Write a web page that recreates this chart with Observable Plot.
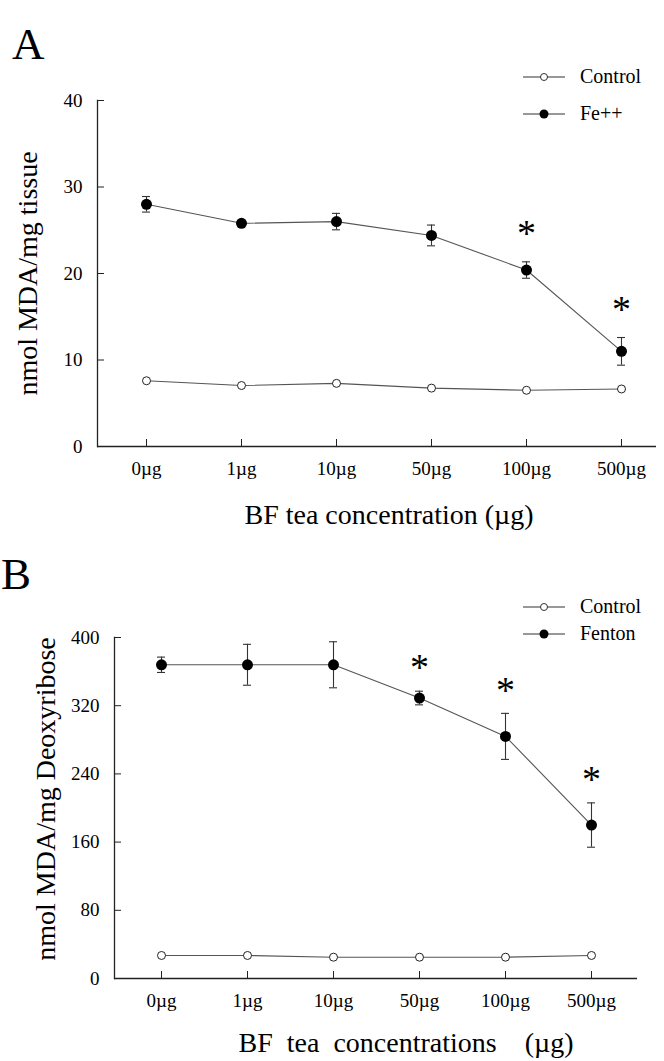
<!DOCTYPE html>
<html><head><meta charset="utf-8">
<script src="https://cdn.jsdelivr.net/npm/d3@7"></script>
<script src="https://cdn.jsdelivr.net/npm/@observablehq/plot@0.6"></script>
<style>
body{margin:0;background:#fff;}
#wrap{position:relative;width:664px;height:1061px;font-family:"Liberation Serif","Times New Roman",serif;color:#000;overflow:hidden;background:#fff}
.letter{position:absolute;font-size:45px;line-height:1;}
.legend{position:absolute;font-size:20px;}
.legend .row{position:absolute;left:0;display:flex;align-items:center;white-space:nowrap;}
.legend svg{margin-right:15px;}
svg.plotA text, svg.plotB text{font-family:"Liberation Serif","Times New Roman",serif;}
svg.plotA [aria-label="x-axis label"] text{font-size:28px;}
svg.plotA [aria-label="y-axis label"] text{font-size:28px;}
svg.plotB [aria-label="x-axis label"] text{font-size:28px;white-space:pre;word-spacing:7px;}
svg.plotB [aria-label="y-axis label"] text{font-size:28px;}
</style></head><body><div id="wrap"></div>
<script>
const concentrations = ["0µg","1µg","10µg","50µg","100µg","500µg"];
// Panel A: lipid peroxidation (nmol MDA/mg tissue)
const controlA = [7.6, 7.05, 7.3, 6.75, 6.5, 6.65];
const feA = [28.0, 25.8, 26.0, 24.4, 20.4, 11.0];
const feErrA = [0.9, 0.3, 0.95, 1.2, 0.95, 1.6];
const sigA = [false, false, false, false, true, true];
const yTicksA = [0, 10, 20, 30, 40];
// Panel B: deoxyribose degradation (nmol MDA/mg Deoxyribose)
const controlB = [27, 27, 25, 25, 25, 27];
const fentonB = [368, 368, 368, 329, 284, 180];
const fentonErrB = [9, 24, 27, 8, 27, 26];
const sigB = [false, false, false, true, true, true];
const yTicksB = [0, 80, 160, 240, 320, 400];

const serif = '"Liberation Serif","Times New Roman",serif';

function panel(o) {
  const rows = concentrations.map((c, i) => ({
    c, control: o.control[i], treat: o.treat[i],
    lo: o.treat[i] - o.err[i], hi: o.treat[i] + o.err[i], sig: o.sig[i]
  }));
  const svg = Plot.plot({
    width: 664, height: o.height,
    marginTop: o.marginTop, marginBottom: o.marginBottom,
    marginLeft: o.marginLeft, marginRight: o.marginRight,
    style: {fontFamily: serif, fontSize: "19px", color: "#000", background: "transparent", overflow: "visible"},
    x: {type: "point", domain: concentrations, range: o.xRange, padding: 0},
    y: {domain: [0, o.yTicks[o.yTicks.length - 1]]},
    marks: [
      Plot.axisX({tickSize: -7, tickPadding: 22, label: o.xlabel, labelAnchor: "center", labelOffset: o.xLabelOffset, labelArrow: "none", stroke: "#222"}),
      Plot.axisY({ticks: o.yTicks, tickSize: -7, tickPadding: 22, label: o.ylabel, labelAnchor: "center", labelOffset: o.yLabelOffset, labelArrow: "none", stroke: "#222"}),
      Plot.ruleY([0], {stroke: "#222", strokeWidth: 1.3}),
      Plot.frame({anchor: "left", stroke: "#222", strokeWidth: 1.3}),
      Plot.line(rows, {x: "c", y: "control", stroke: "#555", strokeWidth: 1.1}),
      Plot.line(rows, {x: "c", y: "treat", stroke: "#555", strokeWidth: 1.1}),
      Plot.ruleX(rows, {x: "c", y1: "lo", y2: "hi", stroke: "#333", strokeWidth: 1.1}),
      Plot.ruleY(rows, {y: "lo", x1: "c", x2: "c", insetLeft: -4, insetRight: -4, stroke: "#333", strokeWidth: 1.1}),
      Plot.ruleY(rows, {y: "hi", x1: "c", x2: "c", insetLeft: -4, insetRight: -4, stroke: "#333", strokeWidth: 1.1}),
      Plot.dot(rows, {x: "c", y: "control", r: 4, fill: "white", stroke: "#222", strokeWidth: 1}),
      Plot.dot(rows, {x: "c", y: "treat", r: 5.5, fill: "black"}),
      Plot.text(rows.filter(d => d.sig), {x: "c", y: "hi", text: () => "*", dy: o.starDy, fontSize: 38, fill: "#000"})
    ]
  });
  // small nudges of the axis titles (style offsets)
  const shift = (sel, dx, dy) => {
    const g = svg.querySelector(sel);
    if (!g) return;
    const t = g.getAttribute("transform") || "";
    g.setAttribute("transform", `translate(${dx},${dy}) ${t}`);
  };
  shift('[aria-label="x-axis label"]', o.xLabelDx, 0);
  shift('[aria-label="y-axis label"]', 0, o.yLabelDy);
  return svg;
}

const wrap = document.getElementById("wrap");

const A = panel({
  control: controlA, treat: feA, err: feErrA, sig: sigA, yTicks: yTicksA,
  height: 545, marginTop: 100, marginBottom: 99, marginLeft: 97, marginRight: 8,
  xRange: [144, 622], xlabel: "BF tea concentration (µg)", xLabelOffset: 77, xLabelDx: 12,
  ylabel: "nmol MDA/mg tissue", yLabelOffset: 80, yLabelDy: 0, starDy: -28
});
A.classList.add("plotA");
A.style.position = "absolute"; A.style.left = "0px"; A.style.top = "0px";
wrap.appendChild(A);

const B = panel({
  control: controlB, treat: fentonB, err: fentonErrB, sig: sigB, yTicks: yTicksB,
  height: 521, marginTop: 97, marginBottom: 83, marginLeft: 114, marginRight: 27,
  xRange: [159, 593], xlabel: "BF tea concentrations  (µg)", xLabelOffset: 73, xLabelDx: 30,
  ylabel: "nmol MDA/mg Deoxyribose", yLabelOffset: 79, yLabelDy: -9, starDy: -23
});
B.classList.add("plotB");
B.style.position = "absolute"; B.style.left = "0px"; B.style.top = "540px";
wrap.appendChild(B);

function letter(t, left, top) {
  const d = document.createElement("div");
  d.className = "letter"; d.textContent = t;
  d.style.left = left + "px"; d.style.top = top + "px";
  wrap.appendChild(d);
}
letter("A", 12, 22);
letter("B", 1, 552);

function legend(left, top, gap, items) {
  const d = document.createElement("div");
  d.className = "legend"; d.style.left = left + "px"; d.style.top = top + "px";
  items.forEach((it, i) => {
    const r = document.createElement("div");
    r.className = "row"; r.style.top = (i * gap) + "px";
    const filled = it.filled;
    r.innerHTML = `<svg width="42" height="14"><line x1="0" x2="42" y1="7" y2="7" stroke="#333" stroke-width="1.2"/>` +
      (filled ? `<circle cx="21" cy="7" r="4.5" fill="#000"/>` : `<circle cx="21" cy="7" r="3.5" fill="#fff" stroke="#333" stroke-width="1"/>`) +
      `</svg><span>${it.label}</span>`;
    d.appendChild(r);
  });
  wrap.appendChild(d);
}
legend(523, 65, 37, [{label: "Control", filled: false}, {label: "Fe++", filled: true}]);
legend(523, 595, 27, [{label: "Control", filled: false}, {label: "Fenton", filled: true}]);
</script></body></html>
